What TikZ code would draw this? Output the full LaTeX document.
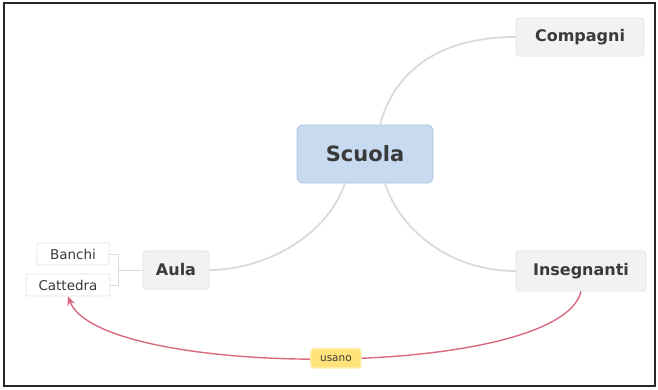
\documentclass[tikz,border=0pt]{standalone}
\usepackage{fontspec}
\setmainfont{DejaVu Sans}
\usetikzlibrary{arrows.meta,calc}
\definecolor{txt}{HTML}{3A3A3A}
\definecolor{topicfill}{HTML}{F2F2F2}
\definecolor{topicdraw}{HTML}{E4E4E4}
\definecolor{mainfill}{HTML}{C7DAF0}
\definecolor{maindraw}{HTML}{A9C4E4}
\definecolor{conn}{HTML}{DADADA}
\definecolor{relc}{HTML}{D9697F}
\definecolor{lblfill}{HTML}{FFE27A}
\tikzset{
  x=1pt, y=-1pt,
  maintopic/.style={rectangle, rounded corners=6pt, fill=mainfill, draw=maindraw, line width=0.8pt,
     minimum width=136pt, minimum height=58pt, font=\fontsize{21}{24}\selectfont\bfseries, text=txt},
  subtopic/.style={rectangle, rounded corners=3pt, fill=topicfill, draw=topicdraw, line width=0.8pt,
     minimum height=38pt, font=\fontsize{16}{18}\selectfont\bfseries, text=txt},
  leaf/.style={rectangle, rounded corners=2pt, fill=white, draw=topicdraw, line width=0.8pt,
     minimum height=22pt, inner sep=1pt, font=\fontsize{13.5}{15}\selectfont, text=txt},
  branch/.style={draw=conn, line width=1.8pt},
  twig/.style={draw=conn, line width=1pt},
  relation/.style={draw=relc, line width=1.4pt, -{Stealth[length=9pt,width=8pt]}},
  rellabel/.style={rectangle, rounded corners=3pt, fill=lblfill, draw=lblfill!70!white, line width=1.5pt,
     minimum width=50pt, minimum height=19pt, inner sep=1pt, font=\fontsize{10.5}{12}\selectfont, text=txt}
}
\begin{document}
\begin{tikzpicture}
\useasboundingbox (0,0) rectangle (658,389);
\draw[line width=1.4pt, draw=black!85] (4,3) rectangle (655,386);

\node[maintopic] (scuola) at (365,154) {Scuola};
\node[subtopic, minimum width=128pt] (compagni) at (580,37) {Compagni};
\node[subtopic, minimum width=130pt, minimum height=40pt] (insegnanti) at (581,271) {Insegnanti};
\node[subtopic, minimum width=66pt] (aula) at (176,270) {Aula};
\node[leaf, minimum width=72pt] (banchi) at (73,254) {Banchi};
\node[leaf, minimum width=84pt] (cattedra) at (68,285) {Cattedra};

\coordinate (sN) at ($(scuola.north)+(15,0)$);
\coordinate (sSL) at ($(scuola.south)+(-20,0)$);
\coordinate (sSR) at ($(scuola.south)+(20,0)$);
\coordinate (fork) at (118,270);

\draw[branch] (sN) .. controls (395,70) and (440,37) .. (compagni.west);
\draw[branch] (sSL) .. controls (325,240) and (260,270) .. (aula.east);
\draw[branch] (sSR) .. controls (400,230) and (450,271) .. (insegnanti.west);

\draw[twig] (aula.west) -- (fork);
\draw[twig] (banchi.east) -| (fork);
\draw[twig] (cattedra.east) -| (fork);

\draw[relation] (insegnanti.south) .. controls (560,380) and (100,380) .. (cattedra.south)
  node[rellabel, pos=0.49] (usano) {usano};
\end{tikzpicture}
\end{document}
